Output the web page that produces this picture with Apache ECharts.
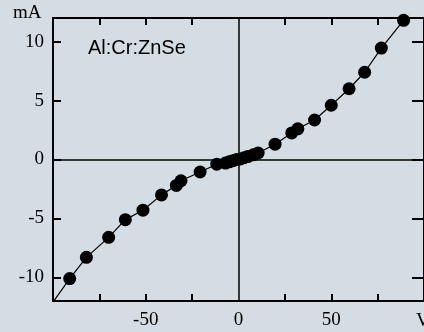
<!DOCTYPE html>
<html>
<head>
<meta charset="utf-8">
<script src="https://cdn.jsdelivr.net/npm/echarts@6/dist/echarts.min.js"></script>
<style>
html,body{margin:0;padding:0;background:#d4dde3;}
#main{width:424px;height:332px;}
</style>
</head>
<body>
<div id="main"></div>
<script>
// I-V curve, Al:Cr:ZnSe
var voltage = [-91, -82, -70, -61, -51.5, -41.5, -33.5, -31, -20.7, -11.7, -7, -5, -3, -1, 1, 3, 5, 8, 10.6, 19.7, 28.7, 32, 41, 50, 59.6, 68, 77, 89];
var current = [-10.1, -8.3, -6.6, -5.1, -4.3, -3.0, -2.2, -1.8, -1.06, -0.4, -0.3, -0.2, -0.1, 0, 0.05, 0.15, 0.25, 0.4, 0.55, 1.3, 2.25, 2.6, 3.35, 4.6, 6.0, 7.4, 9.45, 11.8];
// line continues down to the corner of the frame
var fitStartV = -100;
var fitStartI = -12.1;
var xTicks = [-75, -50, -25, 25, 50, 75];
var yTicks = [-10, -5, 0, 5, 10];
var xLabels = [-50, 0, 50];

var points = voltage.map(function (v, i) { return [v, current[i]]; });
var fit = [[fitStartV, fitStartI]].concat(points);

var myChart = echarts.init(document.getElementById('main'));
var serif = 'Liberation Serif';
var tickStyle = { color: '#000', width: 2 };

function xAxisOpt(pos, labels) {
    return {
        type: 'value', position: pos, min: -100, max: 100,
        axisLine: { show: true, onZero: false, lineStyle: { color: '#000', width: 2 } },
        axisTick: { show: true, inside: true, length: 7, customValues: xTicks, lineStyle: tickStyle },
        axisLabel: { show: labels, color: '#000', fontFamily: serif, fontSize: 19, margin: 10, customValues: xLabels },
        splitLine: { show: false }
    };
}
function yAxisOpt(pos, labels, tickLen) {
    return {
        type: 'value', position: pos, min: -12, max: 12,
        axisLine: { show: true, onZero: false, lineStyle: { color: '#000', width: 2 } },
        axisTick: { show: true, inside: true, length: tickLen, customValues: yTicks, lineStyle: tickStyle },
        axisLabel: { show: labels, color: '#000', fontFamily: serif, fontSize: 19, margin: 9, customValues: yTicks },
        splitLine: { show: false }
    };
}

myChart.setOption({
    backgroundColor: '#d4dde3',
    animation: false,
    grid: { left: 53, top: 18, width: 376, height: 283 },
    xAxis: [xAxisOpt('bottom', true), xAxisOpt('top', false)],
    yAxis: [yAxisOpt('left', true, 8), yAxisOpt('right', false, 12)],
    graphic: [
        { type: 'text', left: 13, top: 4, style: { text: 'mA', font: '19px "Liberation Serif"', fill: '#000' } },
        { type: 'text', left: 416, top: 312, style: { text: 'V', font: '19px "Liberation Serif"', fill: '#000' } },
        { type: 'text', left: 88, top: 38, style: { text: 'Al:Cr:ZnSe', font: '20px "Liberation Sans"', fill: '#000' } }
    ],
    series: [
        {
            type: 'line', data: fit, showSymbol: false, silent: true,
            lineStyle: { color: '#000', width: 1.2 },
            markLine: {
                silent: true, symbol: 'none', label: { show: false },
                lineStyle: { color: '#000', width: 1.5, type: 'solid' },
                data: [{ xAxis: 0 }, { yAxis: 0 }]
            }
        },
        {
            type: 'scatter', data: points, symbol: 'circle', symbolSize: 13,
            itemStyle: { color: '#000', opacity: 1 }
        }
    ]
});
</script>
</body>
</html>
